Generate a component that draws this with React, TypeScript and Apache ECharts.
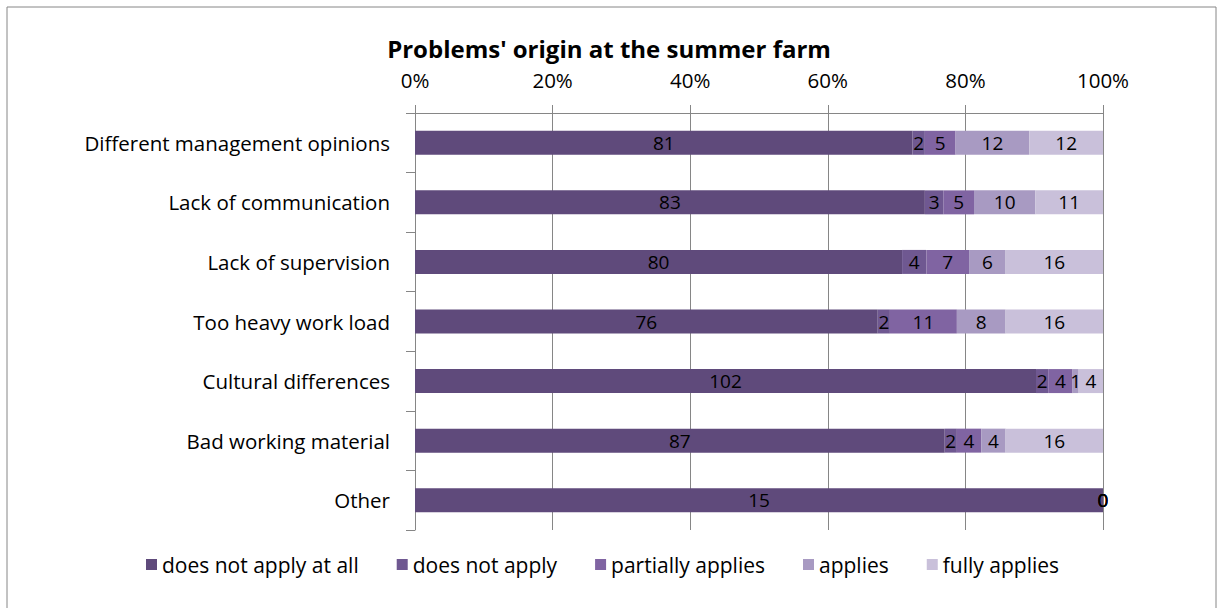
import React, { useEffect, useRef } from "react";
import * as echarts from "echarts";

const categories = [
  "Different management opinions",
  "Lack of communication",
  "Lack of supervision",
  "Too heavy work load",
  "Cultural differences",
  "Bad working material",
  "Other",
];
const seriesNames = [
  "does not apply at all",
  "does not apply",
  "partially applies",
  "applies",
  "fully applies",
];
const doesNotApplyAtAll = [81, 83, 80, 76, 102, 87, 15];
const doesNotApply = [2, 3, 4, 2, 2, 2, 0];
const partiallyApplies = [5, 5, 7, 11, 4, 4, 0];
const applies = [12, 10, 6, 8, 1, 4, 0];
const fullyApplies = [12, 11, 16, 16, 4, 16, 0];
const xTicks = [0, 20, 40, 60, 80, 100];
const colors = ["#5F4A7B", "#6F5891", "#8064A2", "#A89AC2", "#C9C0DA"];

const FONT = "'Open Sans', sans-serif";

export default function App() {
  const ref = useRef<HTMLDivElement>(null);
  useEffect(() => {
    document.body.style.margin = "0";
    if (!ref.current) return;
    const chart = echarts.init(ref.current, undefined, { renderer: "svg" });
    const raw = [doesNotApplyAtAll, doesNotApply, partiallyApplies, applies, fullyApplies];
    const totals = categories.map((_, i) => raw.reduce((s, arr) => s + arr[i], 0));
    const series = raw.map((arr, si) => ({
      name: seriesNames[si],
      type: "bar",
      stack: "total",
      barWidth: 24,
      itemStyle: { color: colors[si] },
      label: {
        show: true,
        position: "inside",
        color: "#000",
        fontFamily: FONT,
        fontSize: 19,
        formatter: (p: any) => String(arr[p.dataIndex]),
      },
      data: arr.map((v, i) => (totals[i] ? (v / totals[i]) * 100 : 0)),
    }));
    chart.setOption({
      animation: false,
      textStyle: { fontFamily: FONT },
      title: {
        text: "Problems' origin at the summer farm",
        left: "center",
        top: 31,
        textStyle: { fontFamily: FONT, fontWeight: "bold", fontSize: 24, color: "#000" },
      },
      graphic: [
        {
          type: "rect",
          shape: { x: 7, y: 7, width: 1209, height: 620 },
          style: { fill: "none", stroke: "#868686", lineWidth: 1 },
          silent: true,
        },
      ],
      legend: {
        bottom: 28,
        left: 141,
        itemWidth: 11,
        itemHeight: 11,
        itemGap: 38,
        icon: "rect",
        textStyle: { fontFamily: FONT, fontSize: 21, color: "#000" },
        data: seriesNames,
      },
      grid: { left: 415, right: 115, top: 113, bottom: 78 },
      xAxis: {
        type: "value",
        position: "top",
        min: 0,
        max: 100,
        interval: 20,
        axisLine: { show: true, lineStyle: { color: "#868686" } },
        axisTick: { show: true, length: 8, lineStyle: { color: "#868686" } },
        splitLine: { show: true, lineStyle: { color: "#868686" } },
        axisLabel: {
          margin: 23,
          color: "#000",
          fontFamily: FONT,
          fontSize: 20.5,
          formatter: (v: number) => (xTicks.includes(v) ? v + "%" : ""),
        },
      },
      yAxis: {
        type: "category",
        inverse: true,
        data: categories,
        axisLine: { show: true, lineStyle: { color: "#868686" } },
        axisTick: { show: true, length: 9, lineStyle: { color: "#868686" } },
        axisLabel: { margin: 25, color: "#000", fontFamily: FONT, fontSize: 20.5 },
      },
      series,
    });
    return () => chart.dispose();
  }, []);
  return <div ref={ref} style={{ width: 1218, height: 608 }} />;
}
